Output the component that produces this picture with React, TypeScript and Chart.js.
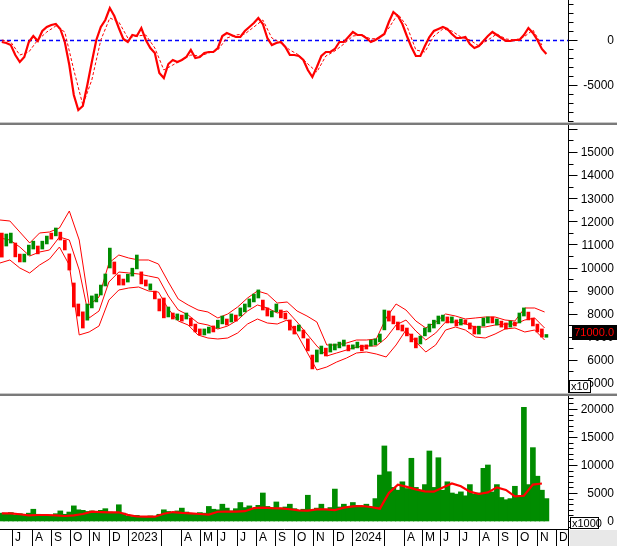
import React, { useEffect, useRef } from 'react';
import { Chart, registerables } from 'chart.js';

Chart.register(...registerables);

// ---------- x axis (trading-day index) ----------
const X_MIN = 0;
const X_MAX = 631;
const DAY_START = 2; // first candle / volume / macd sample (day index)
const DAY_STEP = 5; // one sample every 5 trading days
const BAND_STEP = 11; // Bollinger samples every 11 trading days, from day 0
const SLOW_START = 2; // signal line and volume MA samples
const SLOW_STEP = 10;

const monthStartDays = [13, 35, 57, 78, 99, 121, 142, 179, 201, 222, 241, 263, 284, 306, 327, 348, 370, 391, 427, 449, 469, 489, 510, 532, 553, 574, 597, 618];
const monthLabels = ['J', 'A', 'S', 'O', 'N', 'D', '2023', '', 'A', 'M', 'J', 'J', 'A', 'S', 'O', 'N', 'D', '2024', '', 'A', 'M', 'J', 'J', 'A', 'S', 'O', 'N', 'D'];

// ---------- y tick labels ----------
const macdTickLabels = [5000, 0, -5000];
const priceTickLabels = [5000, 6000, 7000, 8000, 9000, 10000, 11000, 12000, 13000, 14000, 15000];
const volTickLabels = [0, 5000, 10000, 15000, 20000];

// ---------- price (x10) ----------
const candleOpen = [
  11490, 10930, 11060, 11060, 10580, 10240, 10540, 10800, 10930, 10800, 11020, 11490, 11370, 11530, 11190, 10590, 9330, 8420, 8080, 7720,
  8250, 8510, 8810, 9200, 9980, 10240, 9680, 9500, 9370, 9630, 9940, 9810, 9460, 9030, 8980, 8640, 8680, 7860, 8030, 7730,
  7940, 7770, 7810, 7550, 7340, 7080, 7160, 7470, 7380, 7560, 7770, 7640, 7940, 7900, 8080, 8290, 8510, 8680, 8590, 8250,
  7860, 8080, 8160, 8030, 7730, 7460, 7250, 7290, 6910, 6210, 5910, 6260, 6510, 6340, 6430, 6520, 6600, 6640, 6470, 6520,
  6640, 6650, 6600, 6650, 6780, 7300, 8120, 7900, 7640, 7510, 7380, 7120, 6950, 6690, 7040, 7210, 7380, 7560, 7680, 7860,
  7600, 7730, 7510, 7730, 7600, 7460, 7120, 7470, 7600, 7860, 7510, 7680, 7600, 7420, 7640, 7600, 7900, 8070, 7810, 7550,
  7340, 6980,
];
const candleClose = [
  10450, 11450, 11490, 10460, 10240, 10580, 10970, 11140, 10590, 11140, 11360, 11230, 11710, 11190, 10760, 9890, 8290, 7900, 7380, 8420,
  8770, 8850, 9240, 9720, 10840, 9720, 9240, 9240, 9710, 9970, 10540, 9290, 9200, 9290, 8640, 8120, 7820, 8290, 7770, 7990,
  7680, 8030, 7470, 7210, 7080, 7340, 7420, 7210, 7720, 7900, 7510, 7990, 7680, 8250, 8420, 8640, 8850, 9030, 8160, 7900,
  8120, 8420, 7820, 7770, 7290, 7120, 7510, 6950, 6390, 5610, 6430, 6600, 6170, 6690, 6690, 6770, 6860, 6390, 6650, 6770,
  6390, 6470, 6860, 6910, 7120, 8160, 7680, 7560, 7300, 7250, 7040, 6780, 6520, 7030, 7380, 7550, 7720, 7900, 7940, 7600,
  7860, 7470, 7770, 7550, 7340, 7120, 7460, 7810, 7860, 7600, 7770, 7420, 7340, 7680, 7470, 8030, 8250, 7730, 7470, 7210,
  6990, 7100,
];

const bandUpper = [
  12056, 12013, 11537, 11061, 11494, 11537, 11710, 12446, 11190, 8377, 8723, 10195, 10541, 10411, 10325, 10325, 10152, 9372, 8636, 8377,
  8160, 8074, 7814, 7987, 8290, 8680, 8983, 8853, 8463, 8506, 8117, 7900, 7641, 6645, 6645, 6732, 6861, 6861, 6905, 7814,
  8420, 8160, 7684, 7381, 7641, 7987, 7900, 7771, 7814, 7857, 7857, 7727, 7684, 8247, 8247, 8074,
];
const bandMiddle = [
  11277, 11190, 10887, 10498, 10671, 10758, 11320, 11190, 9892, 7814, 8117, 9372, 9805, 9762, 9719, 9632, 9545, 8766, 8160, 7944,
  7597, 7511, 7338, 7468, 7727, 8117, 8377, 8247, 8030, 8117, 7641, 7121, 6602, 6169, 6299, 6429, 6558, 6602, 6602, 6948,
  7511, 7727, 7251, 6861, 7165, 7641, 7641, 7554, 7424, 7424, 7511, 7554, 7554, 7727, 7814, 7381,
];
const bandLower = [
  10195, 10325, 9978, 9762, 10108, 10368, 10887, 10108, 7080, 7208, 7468, 8593, 9026, 9113, 9156, 8983, 8939, 8203, 7684, 7511,
  7078, 6948, 6905, 6948, 7165, 7554, 7771, 7597, 7554, 7727, 7121, 6342, 5563, 5693, 5909, 6082, 6299, 6342, 6255, 6126,
  6645, 7294, 6775, 6342, 6645, 7294, 7424, 7294, 6991, 6948, 7121, 7338, 7381, 7208, 7294, 6861,
];

// ---------- MACD ----------
const macdLine = [
  -222, -333, -556, -1667, -2444, -1889, -222, 444, -111, 1000, 1444, 1667, 1778, 1222, -222, -2778, -6111, -7778, -7333, -5000,
  -2444, 0, 1444, 2222, 3556, 2667, 1333, 111, -222, 556, 444, 1333, 0, -889, -1444, -3667, -4222, -2667, -2222, -2444,
  -2222, -1889, -1111, -2000, -1889, -1444, -1333, -1333, -889, 444, 778, 556, 333, 333, 1000, 1444, 1889, 2444, 1778, 222,
  -556, -333, -222, -778, -1667, -1667, -1778, -2222, -3333, -4111, -3000, -1778, -1333, -1333, -1000, -222, -222, 333, 889, 556,
  556, 222, -222, 0, 333, 667, 2000, 3111, 2667, 1778, 444, -778, -1778, -1778, -667, 333, 1000, 1222, 1444, 1222,
  667, 222, 222, 333, -444, -889, -667, -111, 444, 889, 556, 222, -111, -111, 0, 0, 556, 1333, 778, 0,
  -1000, -1556,
];
const macdSignal = [
  0, -222, -1667, -1333, 0, 889, 1556, 889, -3333, -7222, -4444, 0, 2444, 2000, 222, 444, 556, -889, -3333, -2778,
  -2222, -1667, -1778, -1444, -1111, 222, 556, 667, 1444, 2222, 222, -333, -1111, -1667, -2667, -3556, -1778, -1222, -444, 444,
  556, 111, 222, 1333, 2889, 1556, -1111, -1333, 444, 1222, 1000, 333, 0, -667, 0, 667, 111, 0, 333, 1111,
  -556,
];

// ---------- volume (x1000) ----------
const volume = [
  1400, 1200, 1500, 1100, 1300, 1000, 1400, 2100, 1200, 900, 1100, 1000, 1300, 1800, 1200, 1600, 2700, 2000, 1900, 1700,
  1800, 1600, 1900, 2200, 1600, 1500, 2900, 1400, 900, 800, 1000, 700, 800, 900, 800, 1200, 2000, 1700, 1500, 1800,
  2300, 1600, 1300, 1200, 1500, 1400, 2600, 2100, 2000, 3000, 2300, 1800, 2200, 3300, 2400, 2700, 2200, 2800, 5000, 2600,
  2400, 3400, 2300, 2500, 3000, 2200, 1900, 2100, 4600, 2000, 2300, 3000, 2100, 2400, 5700, 2500, 3000, 2600, 3300, 2800,
  2600, 3000, 2500, 4000, 8200, 13400, 8800, 6000, 5500, 7000, 5800, 11200, 6000, 5500, 6500, 12500, 6000, 11300, 5500, 7000,
  5000, 4800, 5200, 4500, 6500, 4800, 5000, 9400, 10000, 5200, 6500, 4200, 3800, 4000, 6200, 4500, 20300, 6500, 13100, 8000,
  5500, 4000,
];
const volumeMA = [
  1370, 1370, 1200, 1000, 1070, 1070, 1000, 890, 1000, 1250, 1670, 1600, 1550, 1550, 1100, 800, 770, 770, 1300, 1600,
  1450, 1370, 1250, 1150, 1650, 1670, 1670, 1750, 2300, 2400, 2300, 2260, 2100, 1900, 1840, 2080, 2080, 1960, 2380, 2600,
  2680, 2500, 2200, 5000, 6500, 6100, 5650, 5300, 5240, 6000, 6700, 6200, 5240, 4820, 5100, 6000, 5540, 4400, 4500, 6500,
  6700,
];

// ---------- styling ----------
const GREEN = '#008c00';
const RED = '#ff0000';
const FONT = "12px 'Liberation Sans', Arial, sans-serif";
const SMALL_FONT = "11px 'Liberation Sans', Arial, sans-serif";
const AXIS_W = 49;

function drawRightAxis(chart: any, minorStep: number, majorStep: number, labels: number[]) {
  const ctx = chart.ctx;
  const s = chart.scales.y;
  const area = chart.chartArea;
  const ax = area.right + 0.5;
  ctx.save();
  ctx.strokeStyle = '#000';
  ctx.lineWidth = 1;
  ctx.beginPath();
  ctx.moveTo(ax, 0);
  ctx.lineTo(ax, chart.height);
  ctx.stroke();
  ctx.beginPath();
  for (let v = Math.ceil(s.min / minorStep) * minorStep; v <= s.max; v += minorStep) {
    const y = Math.round(s.getPixelForValue(v)) + 0.5;
    const major = Math.abs(v / majorStep - Math.round(v / majorStep)) < 1e-6;
    ctx.moveTo(ax, y);
    ctx.lineTo(ax + (major ? 9 : 5), y);
  }
  ctx.stroke();
  ctx.fillStyle = '#000';
  ctx.font = FONT;
  ctx.textAlign = 'right';
  ctx.textBaseline = 'middle';
  labels.forEach((v) => {
    const y = s.getPixelForValue(v);
    ctx.fillText(String(v), 614, y + 1);
  });
  ctx.restore();
}

function baseOptions(yMin: number, yMax: number, padBottom: number) {
  return {
    responsive: false,
    animation: false as const,
    devicePixelRatio: 1,
    events: [],
    layout: { padding: { left: 0, right: 0, top: 0, bottom: padBottom } },
    plugins: { legend: { display: false }, tooltip: { enabled: false } },
    scales: {
      x: { type: 'linear' as const, min: X_MIN, max: X_MAX, display: false, offset: false, grid: { offset: false } },
      y: {
        type: 'linear' as const,
        position: 'right' as const,
        min: yMin,
        max: yMax,
        ticks: { display: false },
        grid: { display: false },
        border: { display: false },
        afterFit: (sc: any) => {
          sc.width = AXIS_W;
        },
      },
    },
  };
}

const lineDs = (data: { x: number; y: number }[], width: number, dash: number[] = []) => ({
  type: 'line' as const,
  data,
  borderColor: RED,
  borderWidth: width,
  borderDash: dash,
  pointRadius: 0,
  tension: 0,
  fill: false,
});

export default function App() {
  const macdRef = useRef<HTMLCanvasElement>(null);
  const priceRef = useRef<HTMLCanvasElement>(null);
  const volRef = useRef<HTMLCanvasElement>(null);

  useEffect(() => {
    document.body.style.margin = '0';
    const charts: Chart[] = [];

    // ---- MACD ----
    const macdPlugin = {
      id: 'macdDeco',
      beforeDatasetsDraw(chart: any) {
        const ctx = chart.ctx;
        const y = Math.round(chart.scales.y.getPixelForValue(0)) + 0.5;
        ctx.save();
        ctx.strokeStyle = '#0000ff';
        ctx.lineWidth = 1.5;
        ctx.setLineDash([4, 3]);
        ctx.beginPath();
        ctx.moveTo(0, y);
        ctx.lineTo(chart.chartArea.right, y);
        ctx.stroke();
        ctx.restore();
      },
      afterDraw(chart: any) {
        drawRightAxis(chart, 1000, 5000, macdTickLabels);
      },
    };
    charts.push(
      new Chart(macdRef.current!, {
        type: 'line',
        data: {
          datasets: [
            lineDs(macdLine.map((v, i) => ({ x: DAY_START + i * DAY_STEP, y: v })), 2.2),
            lineDs(macdSignal.map((v, i) => ({ x: SLOW_START + i * SLOW_STEP, y: v })), 1, [3, 2]),
          ],
        },
        options: baseOptions(-9111, 4444, 0) as any,
        plugins: [macdPlugin],
      })
    );

    // ---- Price ----
    const lastClose = candleClose[candleClose.length - 1];
    const pricePlugin = {
      id: 'priceDeco',
      afterDraw(chart: any) {
        drawRightAxis(chart, 500, 1000, priceTickLabels);
        const ctx = chart.ctx;
        ctx.save();
        // last price badge
        const y = chart.scales.y.getPixelForValue(lastClose);
        ctx.fillStyle = '#000';
        ctx.fillRect(572, Math.round(y) - 9, 45, 15);
        ctx.fillStyle = '#ff0000';
        ctx.font = SMALL_FONT;
        ctx.textAlign = 'right';
        ctx.textBaseline = 'middle';
        ctx.fillText((lastClose * 10).toFixed(1), 614, Math.round(y) - 1);
        // x10 box
        const h = chart.height;
        ctx.fillStyle = '#fff';
        ctx.fillRect(569, h - 13, 21, 13);
        ctx.strokeStyle = '#000';
        ctx.lineWidth = 1;
        ctx.strokeRect(569.5, h - 12.5, 21, 12);
        ctx.fillStyle = '#000';
        ctx.textAlign = 'left';
        ctx.fillText('x10', 571, h - 6);
        ctx.restore();
      },
    };
    charts.push(
      new Chart(priceRef.current!, {
        type: 'bar',
        data: {
          datasets: [
            {
              type: 'bar' as const,
              data: candleOpen.map((o, i) => ({ x: DAY_START + i * DAY_STEP, y: [o, candleClose[i]] })) as any,
              backgroundColor: candleOpen.map((o, i) => (candleClose[i] >= o ? GREEN : RED)),
              barThickness: 3,
            },
            lineDs(bandUpper.map((v, i) => ({ x: i * BAND_STEP, y: v })), 1),
            lineDs(bandMiddle.map((v, i) => ({ x: i * BAND_STEP, y: v })), 1),
            lineDs(bandLower.map((v, i) => ({ x: i * BAND_STEP, y: v })), 1),
          ] as any,
        },
        options: baseOptions(4567, 16169, 0) as any,
        plugins: [pricePlugin],
      })
    );

    // ---- Volume ----
    const volPlugin = {
      id: 'volDeco',
      afterDraw(chart: any) {
        drawRightAxis(chart, 1000, 5000, volTickLabels);
        const ctx = chart.ctx;
        const area = chart.chartArea;
        const xs = chart.scales.x;
        const top = area.bottom;
        ctx.save();
        ctx.fillStyle = '#fff';
        ctx.fillRect(0, top, area.right, chart.height - top);
        ctx.fillStyle = '#e8e8e8';
        ctx.fillRect(area.right + 2, top + 1, chart.width - area.right - 2, chart.height - top - 1);
        ctx.strokeStyle = '#000';
        ctx.lineWidth = 1;
        ctx.beginPath();
        ctx.moveTo(0, top + 0.5);
        ctx.lineTo(area.right + 1, top + 0.5);
        monthStartDays.forEach((d) => {
          const x = Math.round(xs.getPixelForValue(d)) + 0.5;
          ctx.moveTo(x, top);
          ctx.lineTo(x, chart.height);
        });
        ctx.moveTo(area.right + 0.5, top);
        ctx.lineTo(area.right + 0.5, chart.height);
        ctx.stroke();
        ctx.fillStyle = '#000';
        ctx.font = FONT;
        ctx.textAlign = 'left';
        ctx.textBaseline = 'middle';
        monthStartDays.forEach((d, i) => {
          const x = Math.round(xs.getPixelForValue(d));
          if (monthLabels[i]) ctx.fillText(monthLabels[i], x + 3, top + 9);
        });
        // x1000 box
        ctx.fillStyle = '#fff';
        ctx.fillRect(570, top - 12, 28, 12);
        ctx.strokeRect(570.5, top - 11.5, 28, 11);
        ctx.fillStyle = '#000';
        ctx.font = SMALL_FONT;
        ctx.fillText('x1000', 572, top - 5.5);
        ctx.restore();
      },
    };
    charts.push(
      new Chart(volRef.current!, {
        type: 'bar',
        data: {
          datasets: [
            lineDs(volumeMA.map((v, i) => ({ x: SLOW_START + i * SLOW_STEP, y: v })), 2.2),
            {
              type: 'bar' as const,
              data: volume.map((v, i) => ({ x: DAY_START + i * DAY_STEP, y: v })) as any,
              backgroundColor: GREEN,
              barThickness: 5,
            },
          ] as any,
        },
        options: baseOptions(-1430, 22320, 17) as any,
        plugins: [volPlugin],
      })
    );

    return () => charts.forEach((c) => c.destroy());
  }, []);

  const cv = (top: number, h: number): React.CSSProperties => ({
    position: 'absolute',
    left: 0,
    top,
    width: 617,
    height: h,
    display: 'block',
  });

  return (
    <div style={{ position: 'relative', width: 617, height: 546, background: '#fff', overflow: 'hidden' }}>
      <canvas ref={macdRef} width={617} height={122} style={cv(0, 122)} />
      <div style={{ position: 'absolute', left: 0, top: 122, width: 617, height: 1, background: '#c8c8c8' }} />
      <div style={{ position: 'absolute', left: 0, top: 123, width: 617, height: 2, background: '#7a7a7a' }} />
      <canvas ref={priceRef} width={617} height={268} style={cv(125, 268)} />
      <div style={{ position: 'absolute', left: 0, top: 393, width: 617, height: 1, background: '#c8c8c8' }} />
      <div style={{ position: 'absolute', left: 0, top: 394, width: 617, height: 2, background: '#7a7a7a' }} />
      <canvas ref={volRef} width={617} height={150} style={cv(396, 150)} />
    </div>
  );
}
